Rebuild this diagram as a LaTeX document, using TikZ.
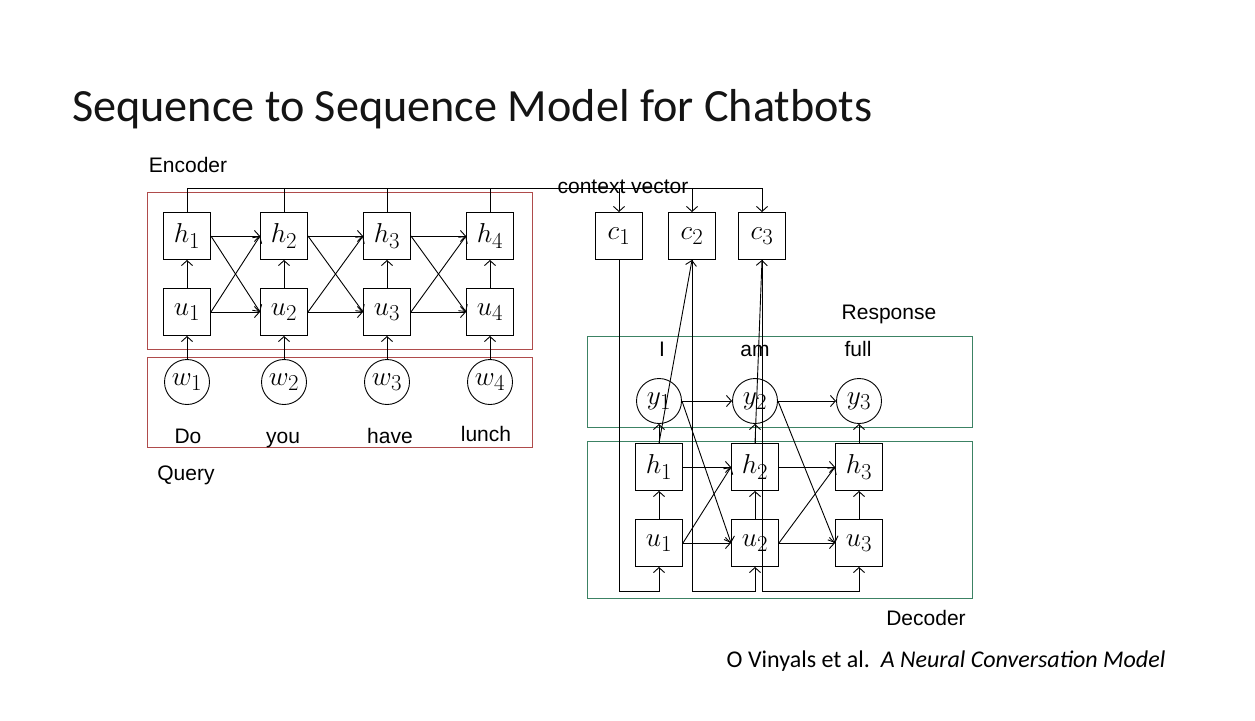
\documentclass[tikz,border=0pt]{standalone}
\usepackage{fontspec}
\setmainfont{Liberation Sans}
\newfontfamily\titlefont{Carlito}
\usetikzlibrary{arrows.meta}
\definecolor{encred}{RGB}{175,75,75}
\definecolor{decgreen}{RGB}{60,130,100}
\definecolor{titlegray}{RGB}{20,20,20}
\newcommand{\mlab}[1]{\scalebox{1.1}{$#1$}}
\begin{document}
\begin{tikzpicture}[x=1pt,y=-1pt,
  box/.style={draw, line width=0.9pt, minimum size=47pt, inner sep=0pt, font=\fontsize{24.88}{30}\selectfont},
  circ/.style={draw, line width=0.9pt, circle, minimum size=45pt, inner sep=0pt, font=\fontsize{24.88}{30}\selectfont},
  arr/.style={line width=0.9pt, -{Straight Barb[length=5pt,width=11pt,line width=0.9pt]}},
  ln/.style={line width=0.9pt},
  lab/.style={inner sep=0pt, anchor=base, font=\fontsize{21}{25}\selectfont},
  encbox/.style={draw=encred, line width=0.9pt},
  decbox/.style={draw=decgreen, line width=0.9pt}]
\fill[white] (0,0) rectangle (1255,720);
\useasboundingbox (0,0) rectangle (1255,720);

% title
\node[anchor=base west, inner sep=0pt, text=titlegray, font=\titlefont\fontsize{46.2}{50}\selectfont] (title) at (72,121) {Sequence to Sequence Model for Chatbots};

% encoder frames
\draw[encbox] (147,192) rectangle (532,349);
\draw[encbox] (147,357) rectangle (532,447);
\node[lab] (enclab) at (188,172) {Encoder};
\node[lab] (querylab) at (186,480) {Query};

% encoder nodes
\foreach \i/\x in {1/187,2/284,3/387,4/490}{
  \node[box] (h\i) at (\x,236) {\mlab{h_{\i}}};
  \node[box] (u\i) at (\x,312) {\mlab{u_{\i}}};
  \node[circ] (w\i) at (\x,382) {\mlab{w_{\i}}};
  \draw[arr] (w\i) -- (u\i);
  \draw[arr] (u\i) -- (h\i);
}
\node[lab] (wd1) at (188,443) {Do};
\node[lab] (wd2) at (283,443) {you};
\node[lab] (wd3) at (390,443) {have};
\node[lab] (wd4) at (486,441) {lunch};

\foreach \a/\b in {1/2,2/3,3/4}{
  \draw[arr] (h\a.east) -- (h\b.west);
  \draw[arr] (u\a.east) -- (u\b.west);
  \draw[arr] (h\a.east) -- (u\b.west);
  \draw[arr] (u\a.east) -- (h\b.west);
}

% context vectors
\node[box] (c1) at (619,236) {\mlab{c_1}};
\node[box] (c2) at (692,236) {\mlab{c_2}};
\node[box] (c3) at (762,236) {\mlab{c_3}};
\coordinate (busy) at (0,188);
\coordinate (loopy) at (0,591);
\foreach \i in {1,2,3,4}{ \draw[ln] (h\i.north) -- (h\i.north |- busy); }
\draw[ln] (h1.north |- busy) -- (c3.north |- busy);
\foreach \i in {1,2,3}{ \draw[arr] (c\i.north |- busy) -- (c\i.north); }
\node[lab] (ctxlab) at (623,193) {context vector};

% decoder frames
\draw[decbox] (587,336) rectangle (972,427);
\draw[decbox] (587,441) rectangle (972,598);
\node[lab] (resplab) at (889,319) {Response};
\node[lab] (declab) at (926,625) {Decoder};
\node[lab] (rw1) at (662,356) {I};
\node[lab] (rw2) at (755,356) {am};
\node[lab] (rw3) at (858,356) {full};

% decoder nodes
\foreach \i/\x in {1/659,2/755,3/859}{
  \node[circ] (y\i) at (\x,401) {\mlab{y_{\i}}};
  \node[box] (dh\i) at (\x,467) {\mlab{h_{\i}}};
  \node[box] (du\i) at (\x,543) {\mlab{u_{\i}}};
  \draw[arr] (du\i) -- (dh\i);
  \draw[arr] (dh\i) -- (y\i);
}
\foreach \a/\b in {1/2,2/3}{
  \draw[arr] (y\a.east) -- (y\b.west);
  \draw[arr] (dh\a.east) -- (dh\b.west);
  \draw[arr] (du\a.east) -- (du\b.west);
  \draw[arr] (du\a.east) -- (dh\b.west);
  \draw[arr] (y\a.east) -- (du\b.west);
}
% context to decoder
\draw[arr] (c1.south) -- (c1.south |- loopy) -| (du1.south);
\draw[arr] (c2.south) -- (c2.south |- loopy) -| (du2.south);
\draw[arr] (c3.south) -- (c3.south |- loopy) -| (du3.south);
% decoder states to context
\draw[arr] (dh1.north) -- (c2.south);
\draw[arr] (dh2.north) -- (c3.south);

% citation
\node[anchor=base, inner sep=0pt, font=\titlefont\fontsize{24}{28}\selectfont] (cite) at (946,667) {O Vinyals et al.\ \ \textit{A Neural Conversation Model}};
\end{tikzpicture}
\end{document}
